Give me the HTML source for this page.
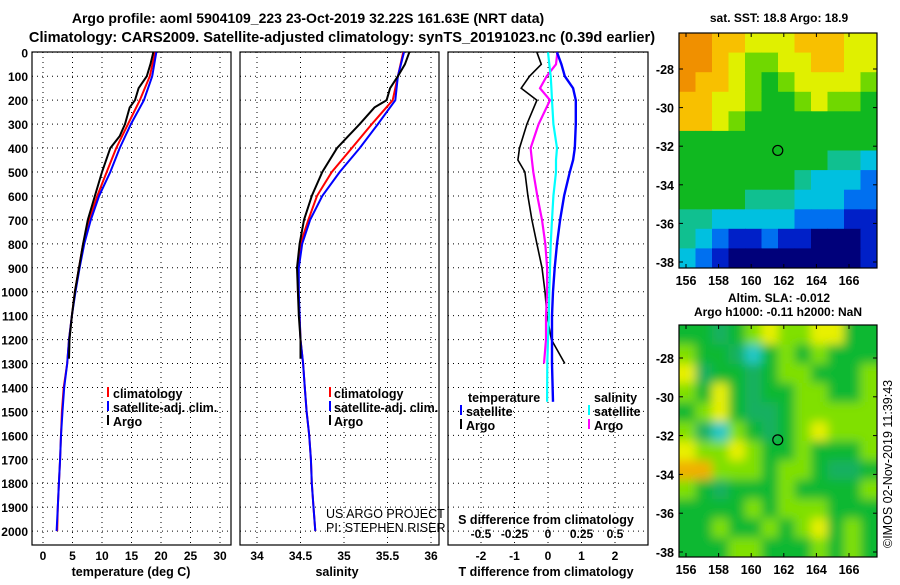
<!DOCTYPE html>
<html><head><meta charset="utf-8"><style>
body{margin:0;background:#fff;}
svg text{font-family:"Liberation Sans",sans-serif;font-weight:bold;font-size:12px;fill:#000;}
</style></head><body>
<svg id="fig" width="900" height="580" viewBox="0 0 900 580" xmlns="http://www.w3.org/2000/svg">
<text x="308" y="23" text-anchor="middle" style="font-size:14px">Argo profile: aoml 5904109_223 23-Oct-2019 32.22S 161.63E (NRT data)</text>
<text x="342" y="42" text-anchor="middle" style="font-size:14.6px">Climatology: CARS2009. Satellite-adjusted climatology: synTS_20191023.nc (0.39d earlier)</text>
<text x="779" y="22" text-anchor="middle">sat. SST: 18.8 Argo: 18.9</text>
<text x="779" y="302" text-anchor="middle">Altim. SLA: -0.012</text>
<text x="778" y="316" text-anchor="middle">Argo h1000: -0.11 h2000: NaN</text>
<text x="892" y="548" transform="rotate(-90 892 548)" style="font-weight:normal;font-size:12.5px">©IMOS 02-Nov-2019 11:39:43</text>
<g id="plots"></g>
</svg>
<script>
// ---- Profile data (pressure dbar) ----
const depths = [0,100,200,300,400,500,600,700,800,900,1000,1100,1200,1300,1400,1500,1600,1700,1800,1900,2000];
const tempClim = [19.0,18.1,16.4,14.4,12.4,10.8,9.2,7.8,6.8,6.1,5.4,4.9,4.4,4.1,3.5,3.2,3.05,2.9,2.7,2.5,2.4];
const tempSat  = [19.2,18.5,17.1,14.9,13.0,11.4,9.5,8.1,7.0,6.2,5.5,4.9,4.4,4.1,3.6,3.3,3.05,2.9,2.7,2.5,2.3];
const argoDepths = [0,50,100,150,200,230,300,350,400,500,600,700,800,900,1000,1100,1200,1280];
const tempArgo = [18.7,18.2,17.6,16.2,15.6,14.7,13.9,13.0,11.4,10.0,8.8,7.6,6.8,6.1,5.4,4.9,4.5,4.4];
const salClim = [35.68,35.62,35.56,35.32,35.09,34.86,34.69,34.59,34.50,34.47,34.47,34.49,34.50,34.53,34.55,34.57,34.60,34.62,34.63,34.65,34.67];
const salSat  = [35.69,35.62,35.59,35.39,35.18,34.95,34.75,34.61,34.52,34.48,34.48,34.49,34.50,34.53,34.55,34.57,34.60,34.62,34.63,34.65,34.67];
const salArgo = [35.75,35.70,35.62,35.53,35.49,35.35,35.18,35.05,34.92,34.75,34.63,34.54,34.49,34.46,34.47,34.48,34.50,34.50];
// ---- Difference data ----
const diffDepths = [0,50,100,150,200,300,400,450,500,600,700,800,900,1000,1100,1200,1300,1460];
const dTsat = [0.27,0.4,0.5,0.75,0.83,0.83,0.8,0.75,0.65,0.48,0.36,0.27,0.2,0.15,0.12,0.12,0.12,0.15];
const dTargo = [-0.33,-0.2,-0.55,-0.8,-0.33,-0.63,-0.85,-0.9,-0.69,-0.6,-0.48,-0.33,-0.18,-0.09,-0.03,0.1,0.5,null];
const dSsat = [0,0.01,0.02,0.025,0.03,0.04,0.067,0.06,0.06,0.04,0.03,0.02,0.015,0.01,0.007,0.0,-0.005,-0.007];
const dSargo = [0.07,0.06,-0.01,-0.06,0.015,-0.07,-0.13,-0.12,-0.11,-0.08,-0.045,-0.02,-0.007,-0.007,-0.015,-0.015,-0.03,null];
// ---- Map data (rows north->south, cols west->east) ----
const sstGrid = [
[9,9,8,8,7,7,7,8,8,8,7,7],[9,9,8,7,6,6,7,7,8,8,7,7],[9,8,8,7,6,5,6,7,7,7,7,6],
[8,8,7,7,6,5,5,6,7,6,6,5],[8,8,7,6,5,5,5,5,5,5,5,5],[5,5,5,5,5,5,5,5,5,5,5,5],
[5,5,5,5,5,5,5,5,5,4,4,3],[5,5,5,5,5,5,5,4,3,3,3,2],[5,5,5,5,4,4,4,3,3,3,2,2],
[4,4,3,3,3,3,3,2,2,2,1,1],[4,3,2,1,1,2,1,1,0,0,0,1],[3,2,1,0,0,0,0,0,0,0,0,1]];
const slaGrid = [
[5,5,4,5,6,7,6,6,7,7,5,5],[6,5,5,4,3,5,6,5,6,5,5,5],[7,4,5,5,4,5,6,6,5,5,5,6],
[6,5,7,5,4,5,5,6,6,5,5,6],[5,6,7,5,4,4,5,6,6,6,6,6],[6,4,3,6,5,4,5,6,7,6,6,6],
[7,6,6,7,6,5,5,6,5,5,5,6],[8,8,6,6,6,5,6,6,5,4,4,5],[6,5,4,5,5,5,6,5,5,5,5,6],
[5,5,5,5,6,5,6,6,6,5,5,5],[5,5,6,5,5,6,5,6,7,5,6,5],[5,5,5,6,6,5,5,5,6,5,6,5]];
const depthTicks = [0,100,200,300,400,500,600,700,800,900,1000,1100,1200,1300,1400,1500,1600,1700,1800,1900,2000];
const tempTicks = [0,5,10,15,20,25,30];
const salTicks = [34,34.5,35,35.5,36];
const dTTicks = [-2,-1,0,1,2];
const dSTicks = [-0.5,-0.25,0,0.25,0.5];
const dSTickLabels = ['-0.5','-0.25','0','0.25','0.5'];
const latTicks = [-28,-30,-32,-34,-36,-38];
const lonTicks = [156,158,160,162,164,166];
const argoLon = 161.63, argoLat = -32.22;

const NS='http://www.w3.org/2000/svg';
const root=document.getElementById('plots');
function el(tag,attrs,parent){const e=document.createElementNS(NS,tag);for(const k in attrs)e.setAttribute(k,attrs[k]);(parent||root).appendChild(e);return e;}
const yD = d => 52.3 + d*0.2394;
const xT = t => 43 + t*5.9;
const xS = s => 257 + (s-34)*87;
const xDT = v => 548 + v*33.5;
const xDS = v => 548 + v*134;
const PT=52, PB=545;

function panel(x0,x1,name){
  const g=el('g',{});
  
  
  depthTicks.forEach(d=>{el('line',{x1:x0,x2:x1,y1:yD(d),y2:yD(d),stroke:'#000','stroke-width':1,'stroke-dasharray':'1 4'},g);});
  el('rect',{x:x0,y:PT,width:x1-x0,height:PB-PT,fill:'none',stroke:'#000','stroke-width':1.2},g);
  return g;
}
function vgrid(g,xs){xs.forEach(x=>el('line',{x1:x,x2:x,y1:PT,y2:PB,stroke:'#000','stroke-width':1,'stroke-dasharray':'1 4'},g));}
function line(g,ds,vals,xf,color,w,name){
  let p='';ds.forEach((d,i)=>{if(vals[i]==null)return;p+=(p?'L':'M')+xf(vals[i]).toFixed(1)+','+yD(d).toFixed(1);});
  const e=el('path',{d:p,fill:'none',stroke:color,'stroke-width':w},g);
  
  
}
function txt(g,x,y,s,anchor,extra){const t=el('text',Object.assign({x:x,y:y,'text-anchor':anchor||'start'},extra||{}),g);t.textContent=s;return t;}

const yax=el('g',{});


depthTicks.forEach(d=>txt(yax,28,yD(d)+5,String(d),'end'));

const p1=panel(32,231,'temperature-panel');
vgrid(p1,tempTicks.map(xT));
tempTicks.forEach(t=>txt(p1,xT(t),560,String(t),'middle'));
txt(p1,131,576,'temperature (deg C)','middle',{style:'font-size:12.5px'});
line(p1,depths,tempClim,xT,'#f00',2,'temp-climatology-line');
line(p1,depths,tempSat,xT,'#00f',2,'temp-satellite-line');
line(p1,argoDepths,tempArgo,xT,'#000',2,'temp-argo-line');
[['#f00','climatology',398],['#00f','satellite-adj. clim.',412],['#000','Argo',426]].forEach(([c,s,y])=>{
  const lg=el('g',{},p1);
  el('rect',{x:107,y:y-11,width:2,height:10,fill:c},lg);txt(lg,113,y,s,'start',{style:'font-size:12.5px'});});

const p2=panel(240,439,'salinity-panel');
vgrid(p2,salTicks.map(xS));
salTicks.forEach(s=>txt(p2,xS(s),560,String(s),'middle'));
txt(p2,337,576,'salinity','middle',{style:'font-size:12.5px'});
line(p2,depths,salClim,xS,'#f00',2,'sal-climatology-line');
line(p2,depths,salSat,xS,'#00f',2,'sal-satellite-line');
line(p2,argoDepths,salArgo,xS,'#000',2,'sal-argo-line');
[['#f00','climatology',398],['#00f','satellite-adj. clim.',412],['#000','Argo',426]].forEach(([c,s,y])=>{
  const lg=el('g',{},p2);
  el('rect',{x:329,y:y-11,width:2,height:10,fill:c},lg);txt(lg,334,y,s,'start',{style:'font-size:12.5px'});});
txt(p2,326,518,'US ARGO PROJECT','start',{style:'font-weight:normal;font-size:12.5px'});
txt(p2,326,532,'PI: STEPHEN RISER','start',{style:'font-weight:normal;font-size:12.5px'});

const p3=panel(448,648,'difference-panel');
vgrid(p3,dTTicks.map(xDT));
dTTicks.forEach(t=>txt(p3,xDT(t),560,String(t),'middle'));
txt(p3,546,576,'T difference from climatology','middle',{style:'font-size:12.5px'});
dSTicks.forEach((s,i)=>txt(p3,xDS(s),538,dSTickLabels[i],'middle'));
txt(p3,546,524,'S difference from climatology','middle',{style:'font-size:12.5px'});
line(p3,diffDepths,dTargo,xDT,'#000',1.6,'dT-argo-line');
line(p3,diffDepths,dSargo,xDS,'#f0f',2.2,'dS-argo-line');
line(p3,diffDepths,dSsat,xDS,'#0ff',2.2,'dS-satellite-line');
line(p3,diffDepths,dTsat,xDT,'#00f',2.4,'dT-satellite-line');
txt(p3,468,402,'temperature','start',{style:'font-size:12.5px'});txt(p3,594,402,'salinity','start',{style:'font-size:12.5px'});
[['#00f','satellite',416,460,466],['#000','Argo',430,460,466],['#0ff','satellite',416,588,594],['#f0f','Argo',430,588,594]].forEach(([c,s,y,mx,tx])=>{
  const lg=el('g',{},p3);
  el('rect',{x:mx,y:y-11,width:2,height:10,fill:c},lg);txt(lg,tx,y,s,'start',{style:'font-size:12.5px'});});

const sstColors=['#00007a','#0020c8','#0070f0','#00c0e0','#10c090','#10b820','#70d800','#e0f000','#f8c000','#f09000'];
const slaColors=['#0040c0','#0080e0','#20a0f0','#20c8c8','#18b060','#10b830','#80e000','#e8f000','#f0b000','#e08000'];
function map(top,bot,grid,colors,latY,name,blur){
  const g=el('g',{});
  
  
  const x0=679,x1=877,rows=grid.length,cols=grid[0].length;
  const cw=(x1-x0)/cols,ch=(bot-top)/rows;
  const cid='clip'+top;
  const cp=el('clipPath',{id:cid},g);el('rect',{x:x0,y:top,width:x1-x0,height:bot-top},cp);
  const cg=el('g',{'clip-path':'url(#'+cid+')'},g);
  const ig=el('g',blur?{filter:'url(#bl)'}:{},cg);
  const pad=blur?20:0;
  grid.forEach((row,r)=>row.forEach((v,c)=>{
    let x=x0+c*cw,y=top+r*ch,w=cw+0.6,h=ch+0.6;
    if(c===0){x-=pad;w+=pad;} if(c===cols-1){w+=pad;}
    if(r===0){y-=pad;h+=pad;} if(r===rows-1){h+=pad;}
    const cell=el('rect',{x:x.toFixed(1),y:y.toFixed(1),width:w.toFixed(1),height:h.toFixed(1),fill:colors[v]},ig);
    
    
  }));
  el('rect',{x:x0,y:top,width:x1-x0,height:bot-top,fill:'none',stroke:'#000','stroke-width':1.2},g);
  const xL=lon=>686+(lon-156)*16.3;
  lonTicks.forEach(l=>{el('line',{x1:xL(l),x2:xL(l),y1:bot,y2:bot-4,stroke:'#000'},g);el('line',{x1:xL(l),x2:xL(l),y1:top,y2:top+4,stroke:'#000'},g);txt(g,xL(l),bot+17,String(l),'middle',{style:'font-size:12.5px'});});
  latTicks.forEach(l=>{el('line',{x1:x0,x2:x0+4,y1:latY(l),y2:latY(l),stroke:'#000'},g);el('line',{x1:x1,x2:x1-4,y1:latY(l),y2:latY(l),stroke:'#000'},g);txt(g,674,latY(l)+5,String(l),'end',{style:'font-size:12.5px'});});
  const c=el('circle',{cx:xL(argoLon),cy:latY(argoLat),r:5,fill:'none',stroke:'#000','stroke-width':1.2},g);
  
  
}
const defs=el('defs',{});const f=el('filter',{id:'bl',x:'-20%',y:'-20%',width:'140%',height:'140%'},defs);el('feGaussianBlur',{stdDeviation:5},f);
map(33,268,sstGrid,sstColors,lat=>69+(-28-lat)*19.3,'sst-map',false);
map(325,557,slaGrid,slaColors,lat=>358+(-28-lat)*19.4,'sla-map',true);
</script>
</body></html>
